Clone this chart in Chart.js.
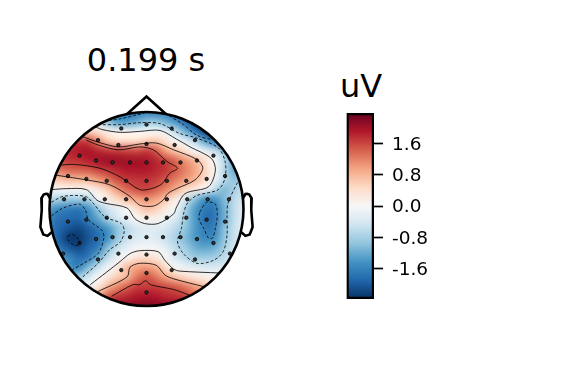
<!DOCTYPE html>
<html>
<head>
<meta charset="utf-8">
<script src="https://cdn.jsdelivr.net/npm/chart.js@4"></script>
<style>
body { margin:0; background:#fff; width:576px; height:374px; overflow:hidden; position:relative; font-family:"DejaVu Sans",sans-serif; color:#000; }
canvas { position:absolute; }
.lbl { position:absolute; font-size:32px; line-height:32px; white-space:nowrap; transform:translateX(-50%); }
</style>
</head>
<body>
<div class="lbl" style="left:146px;top:44px;">0.199 s</div>
<div class="lbl" style="left:361px;top:70px;">uV</div>
<canvas id="topo" width="576" height="374" style="left:0;top:0;"></canvas>
<canvas id="cbar" width="130" height="210" style="left:330px;top:100px;"></canvas>
<script>
// All map coordinates are in percent of the head radius, centre = 0,0
const gridX = [-100,-90,-80,-70,-60,-50,-40,-30,-20,-10,0,10,20,30,40,50,60,70,80,90,100];
const gridY = [100,90,80,70,60,50,40,30,20,10,0,-10,-20,-30,-40,-50,-60,-70,-80,-90,-100];
// potential in uV, one row per gridY entry
const gridValues = [
  [-1.1,-1.1,-1.1,-1.1,-1.1,-1.1,-1.1,-1.6,-1.7,-1.65,-1.6,-1.65,-1.65,-1.95,-2.2,-2.2,-2.2,-2.2,-2.2,-2.2,-2.2],
  [-.25,-.25,-.25,-.25,-.25,-.4,-.95,-1.35,-1.35,-1.2,-.95,-.95,-1.15,-1.4,-1.85,-2.2,-2.2,-2.2,-2.2,-2.2,-2.2],
  [.65,.65,.65,.65,.55,.35,.15,.05,.05,0,0,0,-.2,-.6,-1.15,-1.7,-2.15,-2.2,-2.2,-2.2,-2.2],
  [1.7,1.7,1.7,1.65,1.6,1.15,.65,.45,.4,.45,.6,.65,.35,0,-.25,-.65,-1.25,-1.65,-1.95,-1.95,-1.95],
  [1.8,1.8,1.8,1.9,1.95,1.8,1.7,1.65,1.6,1.55,1.65,1.45,.95,.65,.35,0,-.2,-.55,-.95,-1.2,-1.35],
  [1.65,1.65,1.7,1.75,1.85,1.95,2.05,2.05,2.0,2.0,1.95,1.8,1.6,1.35,1.05,.8,.4,0,-.65,-1.2,-1.35],
  [1.05,1.25,1.35,1.4,1.45,1.6,1.7,1.8,1.9,1.9,1.9,1.8,1.7,1.45,1.2,.95,.55,.05,-.65,-1.2,-1.35],
  [.55,.65,.75,.75,.8,1.0,1.25,1.55,1.65,1.7,1.7,1.65,1.45,1.2,1.0,.8,.4,-.15,-.65,-.95,-.65],
  [-.15,0,0,.05,.05,.25,.6,1.05,1.35,1.55,1.6,1.4,1.15,.85,.45,.2,.05,-.6,-1.05,-.8,-.55],
  [-.65,-.8,-.85,-.85,-.75,-.05,.2,.45,.75,.95,1.05,.95,.65,.15,-.4,-1.0,-1.45,-1.45,-1.05,-.65,-.4],
  [-1.35,-1.55,-1.65,-1.7,-1.45,-.95,-.5,-.2,0,.4,.7,.55,.2,-.05,-.75,-1.35,-1.7,-1.7,-1.15,-.6,-.35],
  [-1.6,-1.8,-1.85,-1.9,-1.6,-1.25,-.75,-.45,-.2,.05,.15,.1,-.15,-.4,-.85,-1.35,-1.8,-1.7,-1.15,-.6,-.25],
  [-1.7,-1.9,-2.05,-2.15,-1.95,-1.7,-1.4,-.95,-.65,-.4,-.3,-.3,-.4,-.65,-.95,-1.35,-1.65,-1.6,-1,-.55,-.25],
  [-1.7,-1.95,-2.3,-2.3,-2.05,-1.8,-1.45,-.9,-.55,-.35,-.25,-.35,-.55,-.75,-1.05,-1.35,-1.55,-1.45,-.95,-.55,-.25],
  [-1.45,-1.75,-2.0,-2.15,-1.9,-1.65,-1,-.55,-.2,-.05,-.05,-.05,-.25,-.6,-.85,-1.15,-1.25,-1.15,-.8,-.45,-.25],
  [-1.05,-1.35,-1.55,-1.8,-1.7,-1.15,-.6,-.15,.05,.35,.4,.25,-.05,-.4,-.65,-.85,-.85,-.8,-.6,-.4,-.25],
  [-.8,-1.05,-1.4,-1.6,-1.05,-.55,-.1,.2,.75,.95,1.0,.85,.4,-.05,-.15,-.25,-.35,-.35,-.35,-.25,-.25],
  [-1.05,-1.05,-1.05,-.8,-.45,0,.25,.6,.8,1.25,1.5,1.25,.95,.65,.45,.25,.15,.05,-.05,-.15,-.15],
  [-.25,-.25,-.25,-.25,-.05,.25,.8,1.15,1.4,1.65,1.65,1.65,1.55,1.45,1.25,1.0,.75,.65,.65,.65,.65],
  [.95,.95,.95,.95,.95,.95,1.45,1.7,1.8,1.9,1.95,1.9,1.8,1.75,1.65,1.4,1.4,1.4,1.4,1.4,1.4],
  [1.9,1.9,1.9,1.9,1.9,1.9,1.9,2.05,2.1,2.15,2.2,2.15,2.1,2.05,1.9,1.9,1.9,1.9,1.9,1.9,1.9]
];

const sensorX = [0,-26,26,-50,50,-29,0,29,-69,69,-52,52,-35,-17,0,17,35,-81,81,-62,62,-41,-21,0,21,41,
  -85,-64,-43,-21,0,21,42,63,85,-81,81,-62,62,-41,-21,0,21,41,-52,52,-35,-17,0,17,35,-69,69,-86,86,-29,0,29,-50,50,-26,26,0,0];
const sensorY = [87,83,83,71,71,66,67,66,55,55,50,50,48,48,48,48,48,34,34,31,31,29,29,29,29,29,
  10,10,10,10,10,10,10,10,10,-13,-13,-11,-11,-9,-9,-9,-9,-9,-31,-31,-29,-29,-29,-29,-29,-35,-35,-46,-46,-46,-47,-46,-52,-52,-63,-63,-66,-86];

// contour lines, [x, y] in the same head units
const contourM06 = [[-50,87],[-27,87],[-7,89],[14,88],[34,78],[52,73],[74,63],[81,49],[81,32],[74,20],[52,14],[45,9],[41,4],[38,-6],[36,-20],[32,-34],[38,-46],[52,-56],[69,-53],[79,-44],[83,-27],[83,-6],[84,6],[95,30]];
const contourM06Left = [[-98,7],[-86,13],[-63,13],[-55,6],[-43,-8],[-26,-15],[-23,-23],[-27,-34],[-38,-42],[-50,-56],[-67,-71]];
const contourM16TopL = [[-39,91],[-27,93],[-10,97],[-2,99]];
const contourM16TopR = [[19,99],[38,87],[52,76],[67,72],[72,75]];
const contourM16Left = [[-98,-7],[-86,1],[-69,5],[-63,-1],[-60,-11],[-46,-22],[-44,-30],[-50,-46],[-65,-56],[-77,-63]];
const contourM16Right = [[55,-3],[62,7],[71,5],[73,-6],[71,-20],[68,-30],[64,-30],[59,-20],[54,-10],[55,-3]];
const contourM24 = [[-81,-28],[-77,-26],[-71,-30],[-69,-37],[-75,-37],[-81,-32],[-81,-28]];
const contourZero = [[-55,86],[-46,82],[-27,79],[-7,80],[14,81],[31,72],[45,64],[67,52],[71,40],[64,23],[40,16],[31,2],[28,-5],[12,-15],[-2,-15],[-12,-10],[-20,1],[-43,6],[-51,9],[-62,20],[-82,21],[-98,20]];
const contourZeroB = [[76,-66],[34,-64],[28,-62],[19,-53],[12,-44],[-7,-43],[-17,-46],[-27,-54],[-41,-65],[-58,-78]];
const contourP08 = [[-67,75],[-50,69],[-29,64],[-7,67],[10,68],[28,61],[52,51],[58,42],[50,30],[31,21],[22,16],[17,9],[7,3],[-7,4],[-17,13],[-38,25],[-62,30],[-81,33],[-94,35]];
const contourP08B = [[59,-80],[28,-72],[19,-68],[10,-58],[-7,-56],[-17,-60],[-20,-70],[-50,-85]];
const contourP16 = [[-62,71],[-50,66],[-29,61],[-7,64],[7,61],[21,49],[32,42],[24,37],[16,26],[5,21],[-7,20],[-27,33],[-48,42],[-75,46],[-91,45]];
const contourP16B = [[45,-89],[28,-83],[4,-78],[-1,-74],[-7,-78],[-14,-78],[-36,-90]];
const solidContours = [contourZero, contourZeroB, contourP08, contourP08B, contourP16, contourP16B];
const dashedContours = [contourM06, contourM06Left, contourM16TopL, contourM16TopR, contourM16Left, contourM16Right, contourM24];

const noseLine = [[-20,98],[0,116],[20,98]];
const earX = [99.4,102,103.6,106,108.4,108,109.4,106.4,102,97.8];
const earY = [11.1,15.5,15.7,14.9,11.1,-1.1,-18.6,-26.3,-27.7,-24];

const colorbarTicks = [1.6,0.8,0,-0.8,-1.6];
const vLimit = 2.37;
const cmapColors = ['#053061','#2166ac','#4393c3','#92c5de','#d1e5f0','#f7f7f7','#fddbc7','#f4a582','#d6604d','#b2182b','#67001f'];

function hexToRgb(h) {
    return [parseInt(h.slice(1,3),16), parseInt(h.slice(3,5),16), parseInt(h.slice(5,7),16)];
}
function cmap(v) {
    const t = Math.max(0, Math.min(1, (v + vLimit) / (2 * vLimit))) * (cmapColors.length - 1);
    const i = Math.min(Math.floor(t), cmapColors.length - 2);
    const a = hexToRgb(cmapColors[i]), b = hexToRgb(cmapColors[i + 1]);
    return a.map((c, k) => Math.round(c + (b[k] - c) * (t - i)));
}

// small bitmap of the grid, stretched to scale positions when drawn
const gridImg = document.createElement('canvas');
gridImg.width = gridX.length;
gridImg.height = gridY.length;
const gctx = gridImg.getContext('2d');
const imgData = gctx.createImageData(gridX.length, gridY.length);
gridValues.forEach((row, j) => row.forEach((v, i) => {
    const c = cmap(v), o = (j * gridX.length + i) * 4;
    imgData.data[o] = c[0]; imgData.data[o + 1] = c[1]; imgData.data[o + 2] = c[2]; imgData.data[o + 3] = 255;
}));
gctx.putImageData(imgData, 0, 0);

function headPath(chart, ctx) {
    const sx = chart.scales.x, sy = chart.scales.y;
    ctx.beginPath();
    ctx.arc(sx.getPixelForValue(0), sy.getPixelForValue(0), sx.getPixelForValue(100) - sx.getPixelForValue(0), 0, Math.PI * 2);
}

const headPlugin = {
    id: 'head',
    beforeDatasetsDraw(chart) {
        const ctx = chart.ctx, sx = chart.scales.x, sy = chart.scales.y;
        ctx.save();
        headPath(chart, ctx);
        ctx.clip();
        ctx.imageSmoothingEnabled = true;
        ctx.imageSmoothingQuality = 'high';
        const x0 = sx.getPixelForValue(-105), x1 = sx.getPixelForValue(105);
        const y0 = sy.getPixelForValue(105), y1 = sy.getPixelForValue(-105);
        ctx.drawImage(gridImg, x0, y0, x1 - x0, y1 - y0);
        ctx.restore();
    },
    beforeDatasetDraw(chart, args) {
        if (chart.data.datasets[args.index].inHead) {
            chart.ctx.save();
            headPath(chart, chart.ctx);
            chart.ctx.clip();
        }
    },
    afterDatasetDraw(chart, args) {
        if (chart.data.datasets[args.index].inHead) chart.ctx.restore();
    },
    afterDatasetsDraw(chart) {
        const ctx = chart.ctx;
        ctx.save();
        headPath(chart, ctx);
        ctx.lineWidth = 2.6;
        ctx.strokeStyle = '#000';
        ctx.stroke();
        ctx.restore();
    }
};

const toPoints = line => line.map(p => ({ x: p[0], y: p[1] }));
const lineSet = (pts, extra) => Object.assign({
    data: pts, showLine: true, pointRadius: 0, borderColor: '#000', borderWidth: 0.8, fill: false
}, extra);

const datasets = [];
solidContours.forEach(c => datasets.push(lineSet(toPoints(c), { inHead: true, tension: 0.3 })));
dashedContours.forEach(c => datasets.push(lineSet(toPoints(c), { inHead: true, tension: 0.3, borderDash: [3, 2] })));
datasets.push(lineSet(toPoints(noseLine), { borderWidth: 2.6 }));
datasets.push(lineSet(earX.map((x, i) => ({ x: x, y: earY[i] })), { borderWidth: 2.6 }));
datasets.push(lineSet(earX.map((x, i) => ({ x: -x, y: earY[i] })), { borderWidth: 2.6 }));
datasets.push({
    data: sensorX.map((x, i) => ({ x: x, y: sensorY[i] })),
    pointRadius: 1.7, pointBackgroundColor: '#333', pointBorderColor: '#000', pointBorderWidth: 0.8, showLine: false
});

new Chart(document.getElementById('topo'), {
    type: 'scatter',
    data: { datasets },
    options: {
        responsive: false,
        animation: false,
        layout: { padding: 0, autoPadding: false },
        plugins: { legend: { display: false }, tooltip: { enabled: false } },
        scales: {
            x: { type: 'linear', display: false, min: -151.03, max: 442.78 },
            y: { type: 'linear', display: false, min: -170.1, max: 215.46 }
        }
    },
    plugins: [headPlugin]
});

// Colorbar
new Chart(document.getElementById('cbar'), {
    type: 'bar',
    data: {
        labels: ['uV'],
        datasets: [{
            data: [[-vLimit, vLimit]],
            barPercentage: 1,
            categoryPercentage: 1,
            borderColor: '#000',
            borderWidth: 2.6,
            borderSkipped: false,
            backgroundColor(c) {
                const area = c.chart.chartArea;
                if (!area) return '#fff';
                const g = c.chart.ctx.createLinearGradient(0, area.bottom, 0, area.top);
                cmapColors.forEach((col, i) => g.addColorStop(i / (cmapColors.length - 1), col));
                return g;
            }
        }]
    },
    options: {
        responsive: false,
        animation: false,
        layout: { padding: { left: 16.5, top: 13, bottom: 11, right: 0 }, autoPadding: false },
        plugins: { legend: { display: false }, tooltip: { enabled: false } },
        scales: {
            x: { display: false },
            y: {
                position: 'right',
                min: -vLimit,
                max: vLimit,
                border: { display: false },
                grid: { drawOnChartArea: false, tickLength: 9, tickWidth: 1.7, tickColor: '#000' },
                ticks: {
                    color: '#000',
                    padding: 9,
                    labelOffset: 1.5,
                    font: { family: 'DejaVu Sans', size: 18.5 },
                    callback: v => v.toFixed(1)
                },
                afterBuildTicks(s) { s.ticks = colorbarTicks.map(v => ({ value: v })); },
                afterFit(s) { s.width = 86; s.paddingTop = 0; s.paddingBottom = 0; }
            }
        }
    }
});
</script>
</body>
</html>
